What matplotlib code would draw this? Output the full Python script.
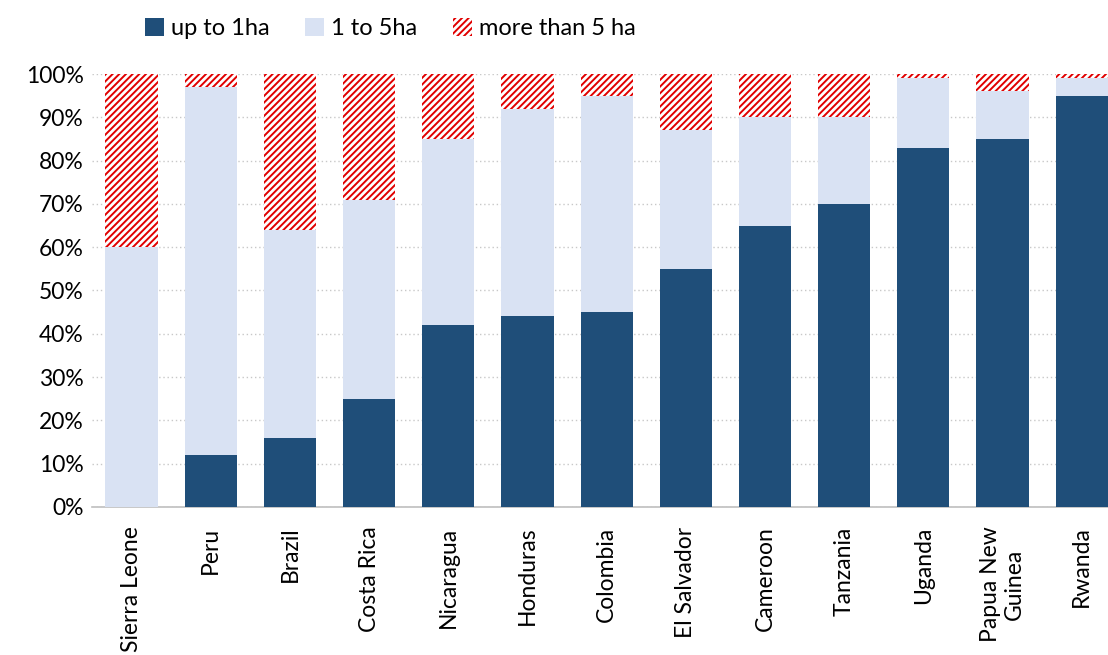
import matplotlib.pyplot as plt
import numpy as np

plt.rcParams['font.family'] = ['Lato', 'DejaVu Sans']
plt.rcParams['hatch.linewidth'] = 1.4

countries = ["Sierra Leone", "Peru", "Brazil", "Costa Rica", "Nicaragua", "Honduras",
             "Colombia", "El Salvador", "Cameroon", "Tanzania", "Uganda",
             "Papua New\nGuinea", "Rwanda"]
up_to_1 = [0, 12, 16, 25, 42, 44, 45, 55, 65, 70, 83, 85, 95]
one_to_5 = [60, 85, 48, 46, 43, 48, 50, 32, 25, 20, 16, 11, 4]
more_5 = [40, 3, 36, 29, 15, 8, 5, 13, 10, 10, 1, 4, 1]

x = np.arange(len(countries))
w = 0.66
b2 = np.array(up_to_1)
b3 = b2 + np.array(one_to_5)

fig = plt.figure(figsize=(11.08, 6.55), dpi=100)
ax = fig.add_axes([0.083, 0.226, 0.929, 0.661])

ax.bar(x, up_to_1, w, color="#1f4e79", label="up to 1ha", zorder=3)
ax.bar(x, one_to_5, w, bottom=b2, color="#d9e2f3", label="1 to 5ha", zorder=3)
ax.bar(x, more_5, w, bottom=b3, color="white", edgecolor="#e00000", hatch="/////",
       linewidth=0, label="more than 5 ha", zorder=3)

ax.set_xlim(-0.5, 12.5)
ax.set_ylim(0, 100)
ax.set_yticks(range(0, 101, 10))
ax.set_yticklabels([f"{v}%" for v in range(0, 101, 10)])
ax.yaxis.grid(True, linestyle=(0, (1, 2)), color="#c8c8c8", linewidth=1, zorder=0)
ax.set_xticks(x)
ax.set_xticklabels(countries, rotation=90, va="top", ha="center", multialignment="center")
ax.tick_params(axis="both", length=0, labelsize=16.5, colors="black")
ax.tick_params(axis="x", pad=14)
ax.tick_params(axis="y", pad=6)
for s in ["top", "right", "left"]:
    ax.spines[s].set_visible(False)
ax.spines["bottom"].set_color("#bfbfbf")
ax.spines["bottom"].set_linewidth(1.2)

fig.legend(loc="upper left", bbox_to_anchor=(0.112, 1.005), ncol=3, frameon=False,
           fontsize=17, handlelength=0.8, handleheight=0.8, handletextpad=0.3,
           columnspacing=1.5)

fig.savefig("out.png", dpi=100)
